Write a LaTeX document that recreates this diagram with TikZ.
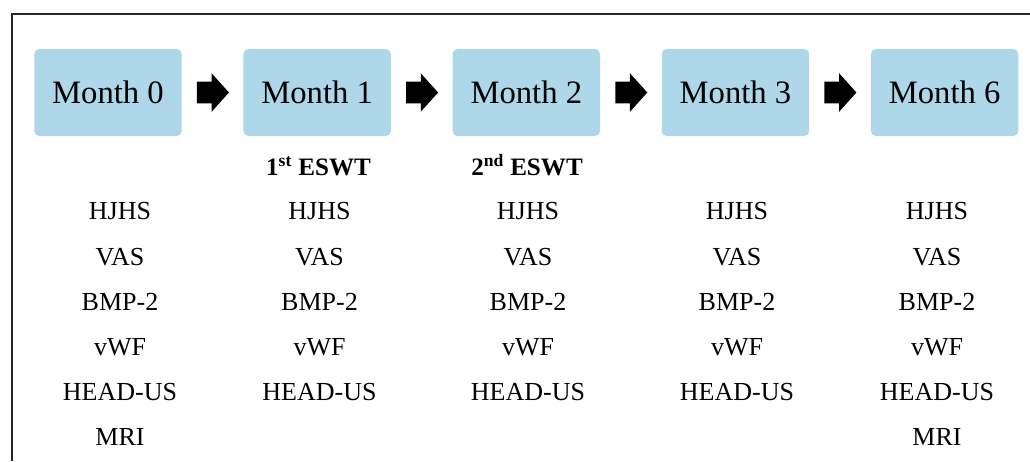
\documentclass[tikz,border=0pt]{standalone}
\usepackage{fontspec}
\setmainfont{Liberation Serif}
\usetikzlibrary{positioning,shapes.arrows}
\definecolor{monthblue}{HTML}{AED7EA}

\begin{document}
\begin{tikzpicture}[
    x=0.75pt,y=-0.75pt,
    month/.style={fill=monthblue, rounded corners=3.75pt, minimum width=110.6pt,
        minimum height=65.25pt, font=\fontsize{24.5}{28}\selectfont},
    blockarrow/.style={single arrow, fill=black, draw=none, minimum height=24pt,
        inner xsep=1pt, inner ysep=7.875pt, single arrow head extend=6.375pt,
        single arrow tip angle=96},
    measures/.style={align=center, anchor=north, inner sep=0pt,
        font=\fontsize{19.5}{33.8}\selectfont},
    treatment/.style={anchor=base, inner sep=0pt, font=\fontsize{18.8}{22}\selectfont\bfseries},
]
\useasboundingbox (0,0) rectangle (1030,461);
\draw[line width=1.5pt, black!85] (11.5,461) -- (11.5,14) -- (1030,14);

\node[month] (m0) at (108,92.5) {Month 0};
\node[blockarrow, right=11pt of m0] (a0) {};
\node[month, right=10.4pt of a0] (m1) {Month 1};
\node[blockarrow, right=11pt of m1] (a1) {};
\node[month, right=10.4pt of a1] (m2) {Month 2};
\node[blockarrow, right=11pt of m2] (a2) {};
\node[month, right=10.4pt of a2] (m3) {Month 3};
\node[blockarrow, right=11pt of m3] (a3) {};
\node[month, right=10.4pt of a3] (m6) {Month 6};

% treatment sessions
\node[treatment] (eswt1) at (318.5,175) {1\textsuperscript{st} ESWT};
\node[treatment] (eswt2) at (527,175) {2\textsuperscript{nd} ESWT};

% outcome measures per visit
\node[measures] (o0) at (120,202.5) {HJHS\\VAS\\BMP-2\\vWF\\HEAD-US\\MRI};
\node[measures] (o1) at (319.5,202.5) {HJHS\\VAS\\BMP-2\\vWF\\HEAD-US};
\node[measures] (o2) at (528,202.5) {HJHS\\VAS\\BMP-2\\vWF\\HEAD-US};
\node[measures] (o3) at (737,202.5) {HJHS\\VAS\\BMP-2\\vWF\\HEAD-US};
\node[measures] (o6) at (937,202.5) {HJHS\\VAS\\BMP-2\\vWF\\HEAD-US\\MRI};
\end{tikzpicture}
\end{document}
